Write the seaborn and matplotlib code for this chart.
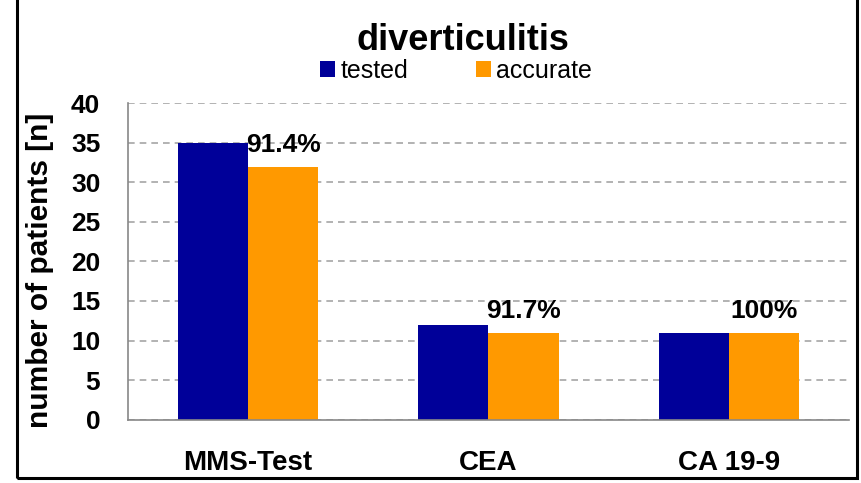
"""
diverticulitis - tested vs accurate
"""
import matplotlib
matplotlib.use('Agg')
import matplotlib.pyplot as plt
from matplotlib.patches import Rectangle, Patch
import seaborn as sns
import pandas as pd

# data
tests = ['MMS-Test', 'CEA', 'CA 19-9']
tested = [35, 12, 11]
accurate = [32, 11, 11]
pct_labels = ['91.4%', '91.7%', '100%']
groups = ['tested', 'accurate']
colors = ['#000099', '#FF9900']

sns.set_style('white', {'text.color': 'black', 'axes.labelcolor': 'black',
                        'xtick.color': 'black', 'ytick.color': 'black'})
plt.rcParams['font.family'] = ['Liberation Sans', 'DejaVu Sans']

df = pd.DataFrame({
    'test': tests * 2,
    'n': tested + accurate,
    'group': ['tested'] * len(tests) + ['accurate'] * len(tests),
})

W, H = 862, 483
fig = plt.figure(figsize=(W / 100, H / 100), dpi=100)
ax = fig.add_axes([128 / W, 1 - 419.5 / H, (849 - 128) / W, (419.5 - 103.5) / H])

sns.barplot(data=df, x='test', y='n', hue='group', hue_order=groups,
            palette=colors, width=0.583, gap=0, saturation=1,
            linewidth=0, legend=False, ax=ax)

# percent labels above accurate bars
ax.bar_label(ax.containers[1], labels=pct_labels, padding=7,
             fontsize=19, fontweight='bold', color='black')

ax.set_ylim(0, 40)
ax.set_xlim(-0.5, 2.5)
ax.set_yticks(range(0, 41, 5))
ax.yaxis.grid(True, color='#A6A6A6', linestyle=(0, (4, 3)), linewidth=1.2)
ax.set_axisbelow(True)

for s in ['top', 'right']:
    ax.spines[s].set_visible(False)
for s in ['left', 'bottom']:
    ax.spines[s].set_color('#888888')
    ax.spines[s].set_linewidth(1.2)

ax.tick_params(axis='y', length=0, pad=20, labelsize=19)
ax.tick_params(axis='x', length=0, pad=22, labelsize=20)
for lbl in ax.get_xticklabels() + ax.get_yticklabels():
    lbl.set_fontweight('bold')

ax.set_xlabel('')
ax.set_ylabel('number of patients [n]', fontsize=21.5, fontweight='bold')
ax.yaxis.set_label_coords((54 - 128) / (849 - 128), 1 - (270 - 103.5) / 316)

# title and legend
fig.text(463 / W, 1 - 50 / H, 'diverticulitis', ha='center', va='baseline',
         fontsize=26, fontweight='bold', color='black')
handles = [Patch(facecolor=c, edgecolor='none', label=g) for g, c in zip(groups, colors)]
fig.legend(handles=handles, loc='center', bbox_to_anchor=(456 / W, 1 - 71 / H),
           ncol=2, frameon=False, fontsize=18, handlelength=0.6, handleheight=0.6,
           handletextpad=0.2, columnspacing=2.7, borderpad=0, labelcolor='black')

# chart border
fig.patches.append(Rectangle((17, 5), 840, 500, transform=None, fill=False,
                             edgecolor='black', linewidth=2.2, figure=fig))

fig.savefig('out.png', dpi=100)
